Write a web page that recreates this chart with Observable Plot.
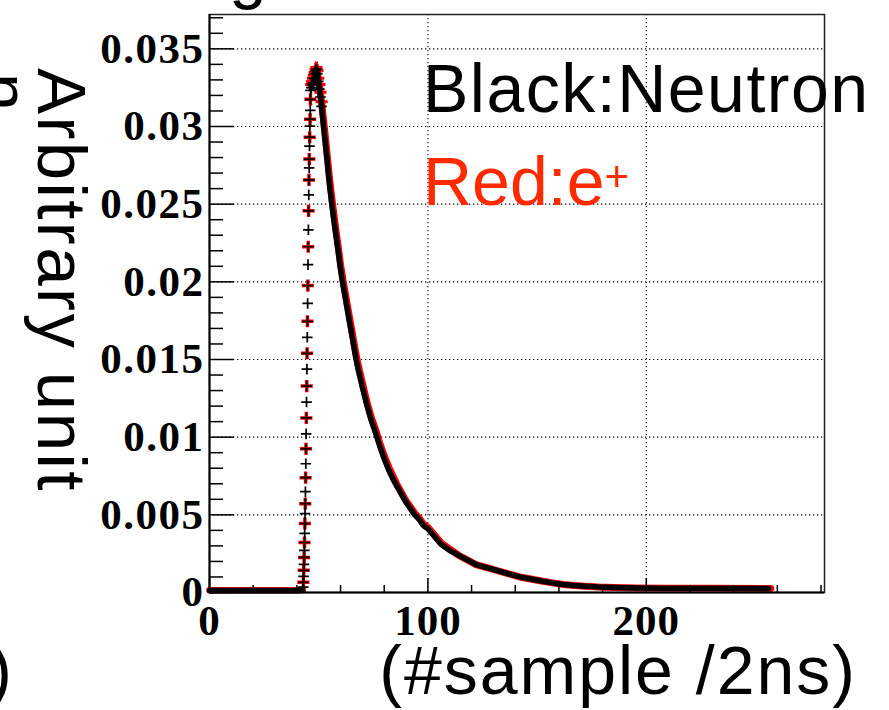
<!DOCTYPE html>
<html><head><meta charset="utf-8">
<script src="https://cdn.jsdelivr.net/npm/d3@7"></script>
<script src="https://cdn.jsdelivr.net/npm/@observablehq/plot@0.6"></script>
<style>
html,body{margin:0;padding:0;background:#fff;}
#wrap{position:relative;width:889px;height:710px;overflow:hidden;background:#fff;}
g[aria-label="y-axis tick label"] text{letter-spacing:1.5px;}
g[aria-label="x-axis tick label"] text{letter-spacing:1px;}
</style></head><body><div id="wrap"></div>
<script>
// ---- data (sample index, arbitrary unit) ----
const neutronBaseX = [0, 10, 20, 30, 40, 42.6];
const neutronBaseY = [0.00013, 0.00013, 0.00013, 0.00013, 0.00013, 0.00015];
const positronBaseX = [0, 10, 20, 30, 40, 42.7];
const positronBaseY = [0.00014, 0.00014, 0.00014, 0.00014, 0.00014, 0.00016];

const neutronRiseX = [42.90,42.99,43.07,43.16,43.24,43.33,43.41,43.50,43.58,43.67,43.75,43.84,43.92,44.01,44.09,44.18,44.26,44.35,44.43,44.52,44.60,44.69,44.77,44.86,44.94,45.03,45.11,45.20,45.28,45.37,45.45,45.54,45.62,45.71,45.79,45.88,45.96,46.05,46.13,46.22,46.30];
const neutronRiseY = [0.00034,0.00066,0.00104,0.00143,0.00181,0.00226,0.00271,0.00322,0.00380,0.00444,0.00508,0.00572,0.00649,0.00739,0.00829,0.00925,0.01021,0.01124,0.01226,0.01329,0.01438,0.01540,0.01643,0.01746,0.01861,0.01976,0.02111,0.02226,0.02335,0.02457,0.02560,0.02656,0.02733,0.02790,0.02874,0.02931,0.03002,0.03047,0.03104,0.03175,0.03232];
const positronRiseX = [42.99,43.16,43.33,43.50,43.67,43.84,44.01,44.18,44.35,44.52,44.69,44.86,45.03,45.20,45.37,45.54,45.71,45.88,46.05,46.22];
const positronRiseY = [0.00066,0.00143,0.00226,0.00322,0.00444,0.00572,0.00739,0.00925,0.01124,0.01329,0.01540,0.01746,0.01976,0.02226,0.02457,0.02656,0.02790,0.02931,0.03047,0.03175];

const neutronDecayX = [46.6,47.0,47.4,47.8,48.2,48.6,49.0,49.4,49.8,50.3,50.8,51.3,52,53,54,55,56,57,58,59,60,61,62,63,64,65,66,67,68,69,70,72,74,76,78,80,82,84,86,88,90,92,94,96,98,100,103,106,110,114,118,122,127,132,137,142,147,152,157,162,167,172,178,185,195,210,230,256];
const neutronDecayY = [0.0325,0.0327,0.0328,0.0331,0.0334,0.0336,0.0337,0.0334,0.0329,0.0324,0.0319,0.0313,0.0303,0.0290,0.0276,0.0262,0.0250,0.0239,0.0229,0.0219,0.0208,0.0199,0.0191,0.0183,0.0175,0.0167,0.0159,0.0151,0.0144,0.0138,0.0132,0.0121,0.0111,0.0103,0.0094,0.0086,0.0079,0.0073,0.0068,0.0063,0.0058,0.0054,0.0050,0.0047,0.0043,0.0041,0.0036,0.0031,0.0027,0.0024,0.0021,0.0018,0.0016,0.0014,0.0012,0.0010,0.00087,0.00074,0.00062,0.00052,0.00045,0.00040,0.00035,0.00032,0.00029,0.00028,0.00027,0.00026];
const positronDecayX = [46.6,47.0,47.4,47.8,48.2,48.6,49.0,49.4,49.8,50.3,50.8,51.3,52,53,54,55,56,57,58,59,60,61,62,63,64,65,66,67,68,69,70,72,74,76,78,80,82,84,86,88,90,92,94,96,98,100,103,106,110,114,118,122,127,132,137,142,147,152,157,162,167,172,178,185,195,210,230,257];
const positronDecayY = [0.0327,0.0329,0.0331,0.0333,0.0335,0.0337,0.0338,0.0336,0.0331,0.0327,0.0322,0.0316,0.0307,0.0294,0.0280,0.0266,0.0254,0.0243,0.0232,0.0222,0.0211,0.0202,0.0194,0.0186,0.0178,0.0170,0.0162,0.0154,0.0147,0.0141,0.0135,0.0123,0.0113,0.0105,0.0096,0.0088,0.0081,0.0075,0.0069,0.0064,0.0059,0.0055,0.0051,0.0048,0.0044,0.0042,0.0037,0.0032,0.0028,0.0024,0.0021,0.0018,0.0016,0.0014,0.0012,0.0010,0.00087,0.00074,0.00062,0.00052,0.00045,0.00040,0.00035,0.00032,0.00029,0.00028,0.00027,0.00026];

// ---- ticks ----
const yMajor = [0, 0.005, 0.01, 0.015, 0.02, 0.025, 0.03, 0.035];
const yMinor = [0.001,0.002,0.003,0.004,0.006,0.007,0.008,0.009,0.011,0.012,0.013,0.014,0.016,0.017,0.018,0.019,0.021,0.022,0.023,0.024,0.026,0.027,0.028,0.029,0.031,0.032,0.033,0.034,0.036,0.037];
const xMajor = [0, 100, 200];
const xMinor = [20, 40, 60, 80, 120, 140, 160, 180, 220, 240, 260, 280];

// ---- texts ----
const yTitle = "Arbitrary unit";
const xTitle = "(#sample /2ns)";
const legendBlack = "Black:Neutron";
const legendRed = "Red:e";
const legendRedSup = "+";

const pts = (xs, ys) => xs.map((x, i) => ({x, y: ys[i]}));
const nBase = pts(neutronBaseX, neutronBaseY), pBase = pts(positronBaseX, positronBaseY);
const nRise = pts(neutronRiseX, neutronRiseY), pRise = pts(positronRiseX, positronRiseY);
const nDecay = pts(neutronDecayX, neutronDecayY), pDecay = pts(positronDecayX, positronDecayY);
const nPeak = nDecay.slice(0, 12), pPeak = pDecay.slice(0, 12);

const W = 889, H = 710, ML = 209, MR = 65, MT = 14, MB = 118;
const IW = W - ML - MR, IH = H - MT - MB;
const RED = "#ff0000";
const grid = {stroke: "black", strokeWidth: 1.1, strokeDasharray: "1.3,2.7"};
const tickFont = {fontFamily: "'Liberation Serif', 'Times New Roman', serif", fontWeight: "bold", fontSize: 43};

const svg = Plot.plot({
  width: W, height: H,
  marginLeft: ML, marginRight: MR, marginTop: MT, marginBottom: MB,
  style: {background: "white", color: "black", overflow: "visible"},
  x: {domain: [0, 281.6]},
  y: {domain: [0, 0.03721]},
  marks: [
    Plot.ruleY(yMajor.filter(d => d > 0), grid),
    Plot.ruleX(xMajor.filter(d => d > 0), grid),
    // red (e+)
    Plot.line(pBase, {x: "x", y: "y", stroke: RED, strokeWidth: 6.5}),
    Plot.line(pDecay, {x: "x", y: "y", stroke: RED, strokeWidth: 7}),
    Plot.dot(pRise, {x: "x", y: "y", symbol: "plus", r: 4, stroke: RED, strokeWidth: 3.5}),
    Plot.dot(pPeak, {x: "x", y: "y", symbol: "plus", r: 4, stroke: RED, strokeWidth: 3}),
    // black (neutron)
    Plot.line(nBase, {x: "x", y: "y", stroke: "black", strokeWidth: 5.5}),
    Plot.line(nDecay, {x: "x", y: "y", stroke: "black", strokeWidth: 5.5}),
    Plot.dot(nRise, {x: "x", y: "y", symbol: "plus", r: 3.5, stroke: "black", strokeWidth: 1.7}),
    Plot.dot(nPeak, {x: "x", y: "y", symbol: "plus", r: 3.5, stroke: "black", strokeWidth: 1.7}),
    // inward ticks
    Plot.tickY(yMajor, {y: d => d, insetRight: IW - 25, stroke: "black", strokeWidth: 1.5}),
    Plot.tickY(yMinor, {y: d => d, insetRight: IW - 14, stroke: "black", strokeWidth: 1.5}),
    Plot.tickX(xMajor, {x: d => d, insetTop: IH - 14, stroke: "black", strokeWidth: 1.5}),
    Plot.tickX(xMinor, {x: d => d, insetTop: IH - 7, stroke: "black", strokeWidth: 1.5}),
    Plot.frame({stroke: "#222", strokeWidth: 1.5}),
    Plot.ruleX([0], {stroke: "black", strokeWidth: 2}),
    Plot.ruleY([0], {stroke: "black", strokeWidth: 2}),
    Plot.axisY({ticks: yMajor, tickSize: 0, tickPadding: 5, label: null, tickFormat: d => String(d), ...tickFont}),
    Plot.axisX({ticks: xMajor, tickSize: 0, tickPadding: 12, label: null, tickFormat: d => String(d), ...tickFont})
  ]
});
document.getElementById("wrap").appendChild(svg);

const sel = d3.select(svg);
const SANS = "'Liberation Sans', Arial, Helvetica, sans-serif";
function txt(str, x, y, opts = {}) {
  const t = sel.append("text").attr("x", x).attr("y", y)
    .attr("font-family", SANS).attr("font-size", opts.size || 68)
    .attr("fill", opts.fill || "black").attr("text-anchor", opts.anchor || "start");
  if (opts.spacing) t.style("letter-spacing", opts.spacing + "px");
  if (opts.transform) t.attr("transform", opts.transform).attr("x", 0).attr("y", 0);
  t.text(str);
  return t;
}
// axis titles
txt(yTitle, 0, 0, {transform: "translate(38,68) rotate(90)", size: 69, spacing: 2.4});
txt(xTitle, 857, 694, {anchor: "end", size: 68, spacing: 2});
// legend texts
txt(legendBlack, 423, 112, {spacing: 1.5});
const red = txt(legendRed, 423, 205, {fill: "#ff2a00"});
red.append("tspan").attr("dy", -14).attr("font-size", 42).text(legendRedSup);
// cropped fragments of neighbouring slide text
txt("n", 0, 0, {transform: "translate(-19,73) rotate(90)"});
txt(")", 12, 694, {anchor: "end"});
txt("g", 229, -4);
</script>
</body></html>
